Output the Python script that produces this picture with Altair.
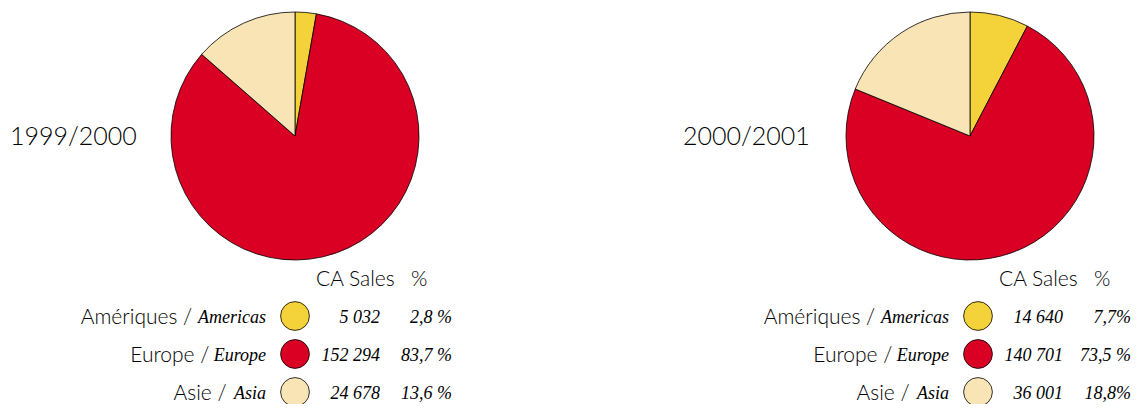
import altair as alt
import pandas as pd

periods = ["1999/2000", "2000/2001"]
regions_fr = ["Amériques", "Europe", "Asie"]
regions_en = ["Americas", "Europe", "Asia"]
sales_9900 = [5032, 152294, 24678]
sales_0001 = [14640, 140701, 36001]
pct_9900 = ["2,8 %", "83,7 %", "13,6 %"]
pct_0001 = ["7,7%", "73,5 %", "18,8%"]
colors = ["#F3D23A", "#DA0024", "#F9E4B5"]

SANS = "Lato"
SERIF = "Liberation Serif"

color_scale = alt.Scale(domain=regions_en, range=colors)
row_scale = alt.Scale(type="point", domain=regions_en, range=[308, 384], padding=0)


def make_df(sales, pcts):
    return pd.DataFrame({
        "fr": [f + " /" for f in regions_fr],
        "en": regions_en,
        "value": sales,
        "vtxt": [f"{v:,}".replace(",", " ") for v in sales],
        "pct": pcts,
        "idx": list(range(len(sales))),
    })


def panel(df, period, pie_x, title_x, shift, pct_x):
    base = alt.Chart(df)
    pie = base.mark_arc(radius=124, stroke="black", strokeWidth=0.8).encode(
        theta=alt.Theta("value:Q", stack="normalize"),
        color=alt.Color("en:N", scale=color_scale, legend=None),
        order=alt.Order("idx:Q"),
        x=alt.value(pie_x),
        y=alt.value(128),
    )
    title = alt.Chart(pd.DataFrame({"t": [period]})).mark_text(
        align="left", baseline="middle", font=SANS, fontSize=25, fontWeight=300, color="black"
    ).encode(text="t:N", x=alt.value(title_x), y=alt.value(129))
    sans = dict(font=SANS, fontSize=21, fontWeight=300, color="black")
    hdr1 = alt.Chart(pd.DataFrame({"t": ["CA Sales"]})).mark_text(
        align="left", baseline="alphabetic", **sans
    ).encode(text="t:N", x=alt.value(308 + shift), y=alt.value(278))
    hdr2 = alt.Chart(pd.DataFrame({"t": ["%"]})).mark_text(
        align="left", baseline="alphabetic", **sans
    ).encode(text="t:N", x=alt.value(403 + shift), y=alt.value(278))
    y = alt.Y("en:N", scale=row_scale, axis=None)
    circ = base.mark_point(
        filled=True, shape="circle", size=830, stroke="black", strokeWidth=0.8, opacity=1
    ).encode(x=alt.value(287 + shift), y=y, fill=alt.Color("en:N", scale=color_scale, legend=None))
    anchor = 258 + shift
    italic = dict(align="right", baseline="middle", font=SERIF, fontStyle="italic",
                  fontWeight="normal", fontSize=18, color="black", dy=2)
    en = base.mark_text(**italic).encode(text="en:N", x=alt.value(anchor), y=y)
    val = base.mark_text(**italic).encode(text="vtxt:N", x=alt.value(372 + shift), y=y)
    pct = base.mark_text(**italic).encode(text="pct:N", x=alt.value(pct_x), y=y)
    fr = base.transform_calculate(
        xs=f"{anchor} - 8.6*length(datum.en) - 5"
    ).mark_text(
        align="right", baseline="middle", dy=2, **sans
    ).encode(text="fr:N", x=alt.X("xs:Q", scale=None), y=y)
    return [pie, title, hdr1, hdr2, circ, en, val, pct, fr]


layers = panel(make_df(sales_9900, pct_9900), periods[0], 287, 2, 0, 444) + \
    panel(make_df(sales_0001, pct_0001), periods[1], 962, 675, 683, 1123)

chart = alt.layer(*layers).properties(
    width=1124, height=396, padding=0, autosize="none", background="white"
).configure_view(strokeWidth=0, stroke="transparent")

chart.save("out.html", embed_options={"renderer": "svg", "actions": False})
